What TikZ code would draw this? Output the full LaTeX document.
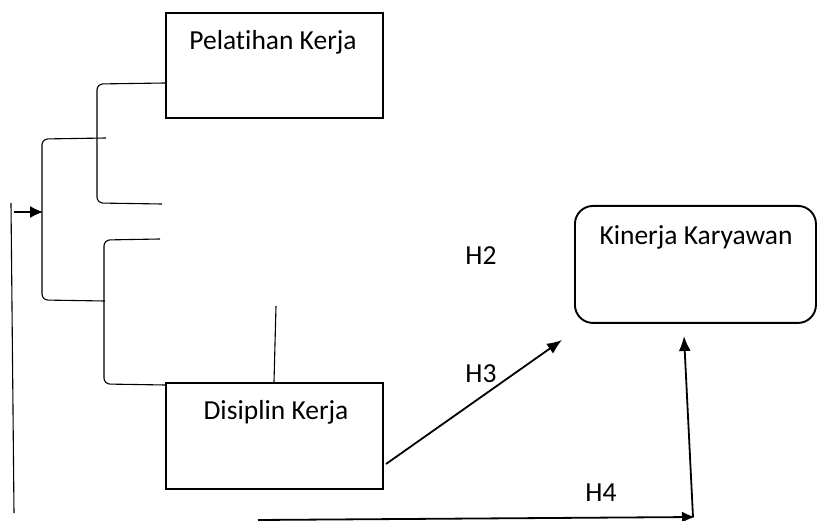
\documentclass[tikz,border=0pt]{standalone}
\usepackage{fontspec}
\setmainfont[Ligatures=NoCommon]{Carlito}
\usetikzlibrary{arrows.meta}
\begin{document}
\begin{tikzpicture}[x=1pt,y=-1pt,
  every node/.style={font=\fontsize{27.5}{32}\selectfont},
  varbox/.style={draw,line width=1.9pt,anchor=north west,inner sep=0pt},
  thinline/.style={line width=1.1pt},
  bracket/.style={thinline,rounded corners=6pt},
  arrowline/.style={line width=1.8pt,-{Latex[length=15pt,width=12pt]}},
  lbl/.style={anchor=base,inner sep=0pt}]
\useasboundingbox (0,0) rectangle (817,521);

% variable boxes
\node[varbox,minimum width=217pt,minimum height=105pt] (pk) at (165,12) {};
\node[varbox,minimum width=217pt,minimum height=106pt] (dk) at (165,382) {};
\node[varbox,rounded corners=18pt,minimum width=241pt,minimum height=117pt] (kk) at (574,205) {};

% box titles
\node[lbl] (pkt) at (273,50) {Pelatihan Kerja};
\node[lbl] (dkt) at (276,419) {Disiplin Kerja};
\node[lbl] (kkt) at (696,245) {Kinerja Karyawan};

% hypothesis labels
\node[lbl] (h2) at (481,265) {H2};
\node[lbl] (h3) at (481,383) {H3};
\node[lbl] (h4) at (601,501) {H4};

% free ends of the bracket lines
\coordinate (ub) at (162,204);
\coordinate (lt) at (160,239);
\coordinate (ot) at (106,138);
\coordinate (ob) at (105,301);
\coordinate (join) at (43,212);
\coordinate (astart) at (14,212);

% upper bracket (Pelatihan Kerja)
\draw[bracket] (pk.west |- 0,83) -- (97,84) -- (97,203) -- (ub);
% lower bracket (Disiplin Kerja)
\draw[bracket] (lt) -- (104,240) -- (104,384) -- (dk.west |- 0,385);
% outer bracket joining both
\draw[bracket] (ot) -- (42,139) -- (42,300) -- (ob);
% small arrow into the outer bracket
\draw[thinline,-{Latex[length=13pt,width=12pt]}] (astart) -- (join);

% long left line
\coordinate (lv1) at (11,203);
\coordinate (lv2) at (14,513);
\draw[thinline] (lv1) -- (lv2);

% tick on top of Disiplin Kerja
\coordinate (tick) at (276,306);
\draw[thinline] (tick) -- (dk.north -| 274,0);

% H3 arrow
\coordinate (h3s) at (386,464);
\coordinate (h3e) at (562,340);
\draw[arrowline] (h3s) -- (h3e);

% H4 path: bottom line, then up towards Kinerja Karyawan
\coordinate (b0) at (258,520);
\coordinate (b1) at (695,517);
\coordinate (up) at (684,336);
\draw[arrowline,-{Latex[length=13pt,width=11pt]}] (b0) -- (b1);
\draw[arrowline] (693,517) -- (up);
\end{tikzpicture}
\end{document}
